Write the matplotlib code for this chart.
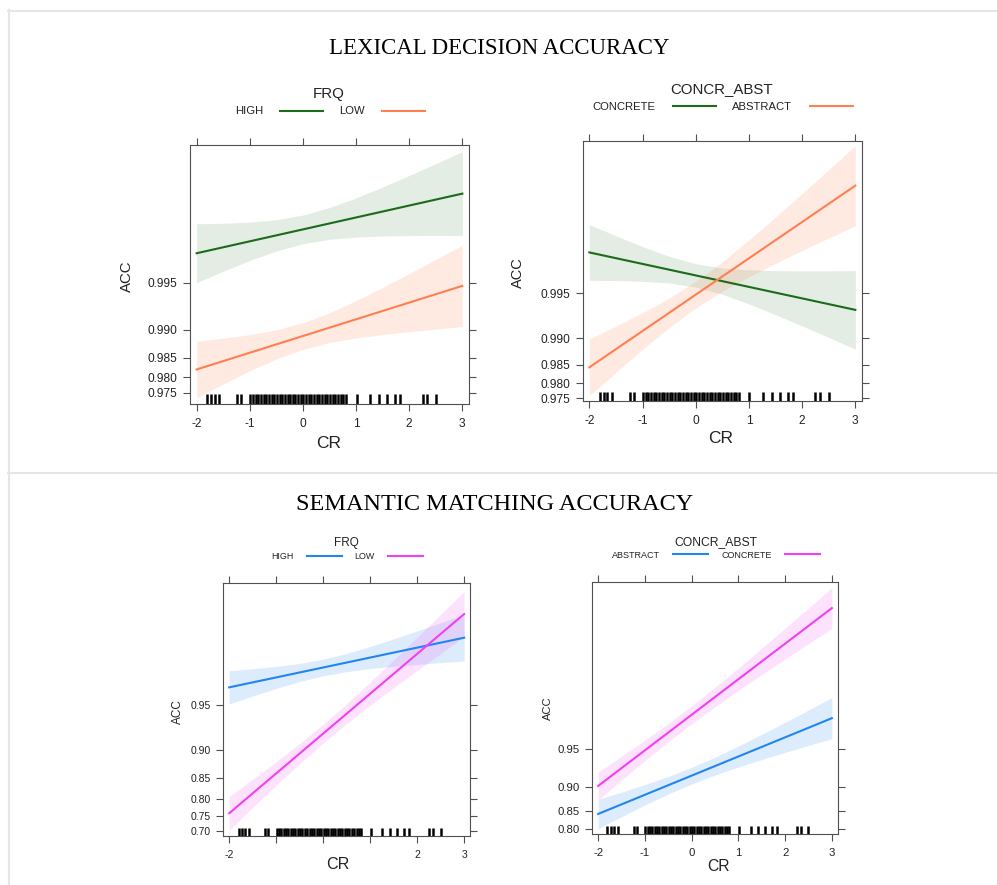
import matplotlib
matplotlib.use("Agg")
import matplotlib.pyplot as plt
from matplotlib.lines import Line2D
from matplotlib.ticker import NullLocator, NullFormatter

W, H = 997, 885

# x grid where the confidence bands were read
cr_grid = [-2, -1.5, -1, -0.5, 0, 0.5, 1, 1.5, 2, 2.5, 3]
cr_ends = [-2, 3]

# rug of observed CR values
rug_cr = [-1.80, -1.73, -1.66, -1.58, -1.24, -1.17,
          -0.99, -0.94, -0.89, -0.84, -0.79, -0.74, -0.69, -0.64, -0.59, -0.54,
          -0.49, -0.44, -0.39, -0.34, -0.29, -0.24, -0.19, -0.14, -0.09, -0.04,
          0.01, 0.06, 0.11, 0.16, 0.21, 0.26, 0.31, 0.36, 0.41, 0.46, 0.51,
          0.56, 0.61, 0.66, 0.71, 0.76, 0.81,
          1.01, 1.26, 1.43, 1.58, 1.73, 1.83, 2.25, 2.33, 2.50]

# --- lexical decision, FRQ ---
ld_frq_high = [0.996772, 0.998664]
ld_frq_high_lo = [0.995012, 0.995788, 0.996409, 0.996880, 0.997196, 0.997374, 0.997459, 0.997498, 0.997514, 0.997518, 0.997514]
ld_frq_high_hi = [0.997913, 0.997927, 0.997962, 0.998033, 0.998165, 0.998358, 0.998577, 0.998789, 0.998978, 0.999143, 0.999282]
ld_frq_low = [0.982178, 0.994774]
ld_frq_low_lo = [0.973132, 0.977986, 0.981814, 0.984710, 0.986713, 0.987961, 0.988745, 0.989301, 0.989746, 0.990128, 0.990472]
ld_frq_low_hi = [0.988215, 0.988714, 0.989289, 0.990021, 0.991011, 0.992238, 0.993507, 0.994660, 0.995645, 0.996466, 0.997139]

# --- lexical decision, CONCR_ABST ---
ld_ca_concrete = [0.997339, 0.993528]
ld_ca_concrete_lo = [0.995902, 0.995889, 0.995844, 0.995726, 0.995449, 0.994911, 0.994099, 0.993035, 0.991714, 0.990104, 0.988157]
ld_ca_concrete_hi = [0.998273, 0.997943, 0.997568, 0.997175, 0.996830, 0.996614, 0.996512, 0.996471, 0.996459, 0.996462, 0.996472]
ld_ca_abstract = [0.984346, 0.999056]
ld_ca_abstract_lo = [0.975877, 0.983137, 0.988130, 0.991502, 0.993713, 0.995145, 0.996124, 0.996850, 0.997417, 0.997872, 0.998242]
ld_ca_abstract_hi = [0.989873, 0.991686, 0.993240, 0.994606, 0.995840, 0.996929, 0.997808, 0.998465, 0.998934, 0.999264, 0.999493]

# --- semantic matching, FRQ ---
sm_frq_high = [0.961998, 0.982938]
sm_frq_high_lo = [0.950520, 0.956379, 0.961344, 0.965377, 0.968395, 0.970451, 0.971840, 0.972867, 0.973702, 0.974431, 0.975092]
sm_frq_high_hi = [0.970895, 0.971794, 0.972828, 0.974122, 0.975832, 0.977976, 0.980319, 0.982613, 0.984735, 0.986645, 0.988341]
sm_frq_low = [0.758648, 0.988405]
sm_frq_low_lo = [0.704035, 0.775945, 0.833609, 0.877577, 0.909771, 0.932854, 0.949518, 0.961796, 0.970991, 0.977939, 0.983213]
sm_frq_low_hi = [0.805962, 0.846631, 0.880716, 0.908961, 0.932131, 0.950706, 0.964990, 0.975518, 0.983047, 0.988334, 0.992004]

# --- semantic matching, CONCR_ABST ---
sm_ca_abstract = [0.842869, 0.972095]
sm_ca_abstract_lo = [0.801055, 0.835775, 0.864616, 0.887849, 0.905948, 0.919810, 0.930651, 0.939484, 0.946927, 0.953329, 0.958899]
sm_ca_abstract_hi = [0.877242, 0.891536, 0.904966, 0.917818, 0.930285, 0.942167, 0.952927, 0.962179, 0.969863, 0.976114, 0.981138]
sm_ca_concrete = [0.902676, 0.996671]
sm_ca_concrete_lo = [0.876185, 0.912481, 0.938415, 0.956511, 0.968966, 0.977557, 0.983586, 0.987903, 0.991044, 0.993350, 0.995054]
sm_ca_concrete_hi = [0.923991, 0.942958, 0.957738, 0.969189, 0.977972, 0.984558, 0.989346, 0.992728, 0.995070, 0.996673, 0.997761]

ld_ticks = [0.975, 0.980, 0.985, 0.990, 0.995]
ld_labels = ["0.975", "0.980", "0.985", "0.990", "0.995"]
sm_frq_ticks = [0.70, 0.75, 0.80, 0.85, 0.90, 0.95]
sm_frq_labels = ["0.70", "0.75", "0.80", "0.85", "0.90", "0.95"]
sm_ca_ticks = [0.80, 0.85, 0.90, 0.95]
sm_ca_labels = ["0.80", "0.85", "0.90", "0.95"]
x_ticks = [-2, -1, 0, 1, 2, 3]
x_labels = ["-2", "-1", "0", "1", "2", "3"]
x_labels_sm_frq = ["-2", "", "", "", "2", "3"]

GREEN = "#1b6b1b"
ORANGE = "#ff7f50"
BLUE = "#2186f0"
MAGENTA = "#f23ff2"
SANS = "Liberation Sans"
SERIF = "Liberation Serif"
TXT = "#222222"
FRAME = "#505050"


def fx(px):
    return px / W


def fy(py):
    return 1 - py / H


def panel(fig, box, ylim, yticks, ylabels, xlabels, series, rug_h, tick_fs):
    x0, y0, x1, y1 = box
    ax = fig.add_axes([fx(x0), fy(y1), (x1 - x0) / W, (y1 - y0) / H])
    ax.set_yscale("logit")
    for ln, lo, hi, col, a in series:
        ax.fill_between(cr_grid, lo, hi, color=col, alpha=a, lw=0)
    for ln, lo, hi, col, a in series:
        ax.plot(cr_ends, ln, color=col, lw=1.5)
    ax.vlines(rug_cr, 0, rug_h, transform=ax.get_xaxis_transform(), color="black", lw=1.8)
    ax.set_xlim(-2.125, 3.125)
    ax.set_ylim(*ylim)
    ax.yaxis.set_minor_locator(NullLocator())
    ax.yaxis.set_minor_formatter(NullFormatter())
    ax.set_yticks(yticks, ylabels)
    ax.set_xticks(x_ticks, xlabels)
    ax.tick_params(direction="out", length=5, width=0.8, color=FRAME, top=True, right=True,
                   labelsize=tick_fs, labelcolor=TXT)
    ax.tick_params(axis="y", pad=4)
    ax.tick_params(axis="x", pad=5)
    for lab in ax.get_xticklabels() + ax.get_yticklabels():
        lab.set_family(SANS)
    for s in ax.spines.values():
        s.set_color(FRAME)
        s.set_linewidth(0.8)
    return ax


def key(fig, title, tx, ty, tfs, items, iy, ify):
    fig.text(fx(tx), fy(ty), title, ha="center", va="center", family=SANS, fontsize=tfs, color=TXT)
    for lab, lx, l0, l1, col in items:
        fig.text(fx(lx), fy(iy), lab, ha="left", va="center", family=SANS, fontsize=ify, color=TXT)
        fig.add_artist(Line2D([fx(l0), fx(l1)], [fy(iy - 1), fy(iy - 1)], color=col, lw=1.5))


def axis_text(fig, acc_xy, acc_fs, cr_xy, cr_fs):
    fig.text(fx(acc_xy[0]), fy(acc_xy[1]), "ACC", rotation=90, ha="center", va="center",
             family=SANS, fontsize=acc_fs, color=TXT)
    fig.text(fx(cr_xy[0]), fy(cr_xy[1]), "CR", ha="center", va="center",
             family=SANS, fontsize=cr_fs, color=TXT)


def main():
    fig = plt.figure(figsize=(W / 100, H / 100), dpi=100)

    # page borders
    for xs, ys in [([8, W], [10.5, 10.5]), ([8.5, 8.5], [10, H]), ([8, W], [472.5, 472.5])]:
        fig.add_artist(Line2D([fx(v) for v in xs], [fy(v) for v in ys], color="#e6e6e6", lw=1.5))

    fig.text(fx(499.5), fy(48), "LEXICAL DECISION ACCURACY", ha="center", va="center",
             family=SERIF, fontsize=16.5, color="black")
    fig.text(fx(494.5), fy(504), "SEMANTIC MATCHING ACCURACY", ha="center", va="center",
             family=SERIF, fontsize=17.5, color="black")

    # lexical decision: FRQ
    panel(fig, (190, 145, 469, 404), (0.9706, 0.99935), ld_ticks, ld_labels, x_labels,
          [(ld_frq_high, ld_frq_high_lo, ld_frq_high_hi, GREEN, 0.12),
           (ld_frq_low, ld_frq_low_lo, ld_frq_low_hi, ORANGE, 0.16)], 10 / 259, 8.6)
    key(fig, "FRQ", 329, 94, 10.9,
        [("HIGH", 235, 280, 323, GREEN), ("LOW", 339, 382, 425, ORANGE)], 111.5, 8.1)
    axis_text(fig, (126.7, 276), 10.8, (329, 443.3), 12.5)

    # lexical decision: CONCR_ABST
    panel(fig, (582.7, 140.7, 862, 400.7), (0.97399, 0.99953), ld_ticks, ld_labels, x_labels,
          [(ld_ca_concrete, ld_ca_concrete_lo, ld_ca_concrete_hi, GREEN, 0.12),
           (ld_ca_abstract, ld_ca_abstract_lo, ld_ca_abstract_hi, ORANGE, 0.16)], 9 / 260, 8.6)
    key(fig, "CONCR_ABST", 722, 89.3, 10.8,
        [("CONCRETE", 592.7, 673, 716, GREEN), ("ABSTRACT", 732, 810, 853, ORANGE)], 106.7, 8.1)
    axis_text(fig, (518, 272.7), 10.5, (720.8, 438.3), 12.5)

    # semantic matching: FRQ
    panel(fig, (223.3, 582.7, 470, 836), (0.6833, 0.99307), sm_frq_ticks, sm_frq_labels, x_labels_sm_frq,
          [(sm_frq_high, sm_frq_high_lo, sm_frq_high_hi, BLUE, 0.15),
           (sm_frq_low, sm_frq_low_lo, sm_frq_low_hi, MAGENTA, 0.15)], 7.7 / 253, 7.5)
    key(fig, "FRQ", 346.5, 543.3, 8.5,
        [("HIGH", 271, 306.7, 341.7, BLUE), ("LOW", 354, 388, 423, MAGENTA)], 556.7, 6.4)
    axis_text(fig, (178, 711.7), 8.5, (338.3, 864.3), 11.6)

    # semantic matching: CONCR_ABST
    panel(fig, (592.3, 581.7, 837.7, 834), (0.7838, 0.99801), sm_ca_ticks, sm_ca_labels, x_labels,
          [(sm_ca_abstract, sm_ca_abstract_lo, sm_ca_abstract_hi, BLUE, 0.15),
           (sm_ca_concrete, sm_ca_concrete_lo, sm_ca_concrete_hi, MAGENTA, 0.15)], 8.3 / 252, 8.2)
    key(fig, "CONCR_ABST", 715.5, 541.7, 8.7,
        [("ABSTRACT", 611.7, 673, 708, BLUE), ("CONCRETE", 721, 785, 820, MAGENTA)], 555, 6.5)
    axis_text(fig, (548, 708), 8, (718, 866.7), 11.3)

    fig.savefig("out.png", dpi=100)


if __name__ == "__main__":
    main()
